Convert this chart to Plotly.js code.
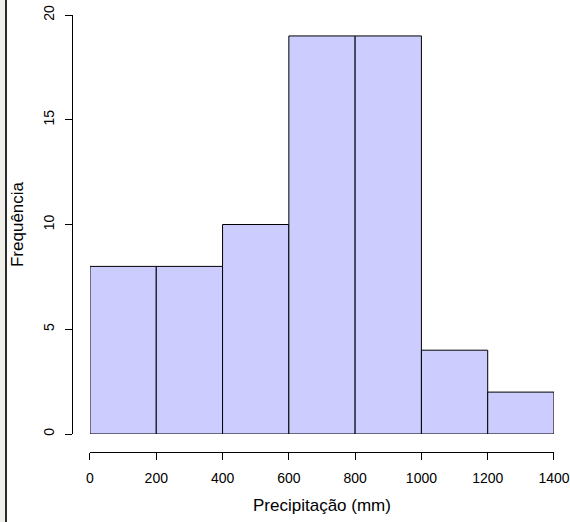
<!DOCTYPE html>
<html>
<head>
<meta charset="utf-8">
<script src="https://cdn.plot.ly/plotly-3.0.1.min.js"></script>
<style>
html,body{margin:0;padding:0;background:#fff;}
#wrap{position:relative;width:570px;height:522px;overflow:hidden;}
#chart{position:absolute;left:0;top:0;width:570px;height:522px;}
#strip{position:absolute;left:0;top:0;width:5px;height:522px;background:#f1efea;}
#edge{position:absolute;left:5px;top:0;width:2px;height:522px;background:#2a2a2a;}
</style>
</head>
<body>
<div id="wrap">
<div id="chart"></div>
<div id="strip"></div>
<div id="edge"></div>
</div>
<script>
const binStart = [0, 200, 400, 600, 800, 1000, 1200];
const binWidth = 200;
const counts = [8, 8, 10, 19, 19, 4, 2];
const xTicks = [0, 200, 400, 600, 800, 1000, 1200, 1400];
const yTicks = [0, 5, 10, 15, 20];

const trace = {
  type: 'bar',
  x: binStart,
  y: counts,
  width: binStart.map(() => binWidth),
  offset: 0,
  marker: {color: '#ccccff', line: {color: '#000', width: 1}},
  hoverinfo: 'x+y'
};

const font = {family: 'Liberation Sans, Arial, sans-serif', color: '#000'};

const layout = {
  width: 570, height: 522,
  margin: {l: 72, r: 16, t: 15, b: 70, pad: 0},
  paper_bgcolor: '#fff', plot_bgcolor: 'rgba(0,0,0,0)',
  showlegend: false,
  bargap: 0,
  font: Object.assign({size: 14}, font),
  xaxis: {
    domain: [0.0373, 1],
    range: [0, 1400],
    anchor: 'free', position: 0,
    tickvals: xTicks, ticktext: xTicks.map(String),
    ticks: 'outside', ticklen: 7, tickwidth: 1, tickcolor: '#000',
    showline: true, linecolor: '#000', linewidth: 1,
    showgrid: false, zeroline: false,
    tickfont: Object.assign({size: 14}, font),
    ticklabelstandoff: 6,
    title: {text: 'Precipitação (mm)', font: Object.assign({size: 17}, font), standoff: 14}
  },
  yaxis: {
    domain: [0.0412, 1],
    range: [0, 20],
    anchor: 'free', position: 0,
    tickvals: yTicks, ticktext: yTicks.map(String),
    ticks: 'outside', ticklen: 7, tickwidth: 1, tickcolor: '#000',
    tickangle: -90,
    showline: true, linecolor: '#000', linewidth: 1,
    showgrid: false, zeroline: false,
    tickfont: Object.assign({size: 14}, font),
    ticklabelstandoff: 5,
    title: {text: 'Frequência', font: Object.assign({size: 17}, font), standoff: 12}
  }
};

Plotly.newPlot('chart', [trace], layout, {displayModeBar: false, staticPlot: true});
</script>
</body>
</html>
